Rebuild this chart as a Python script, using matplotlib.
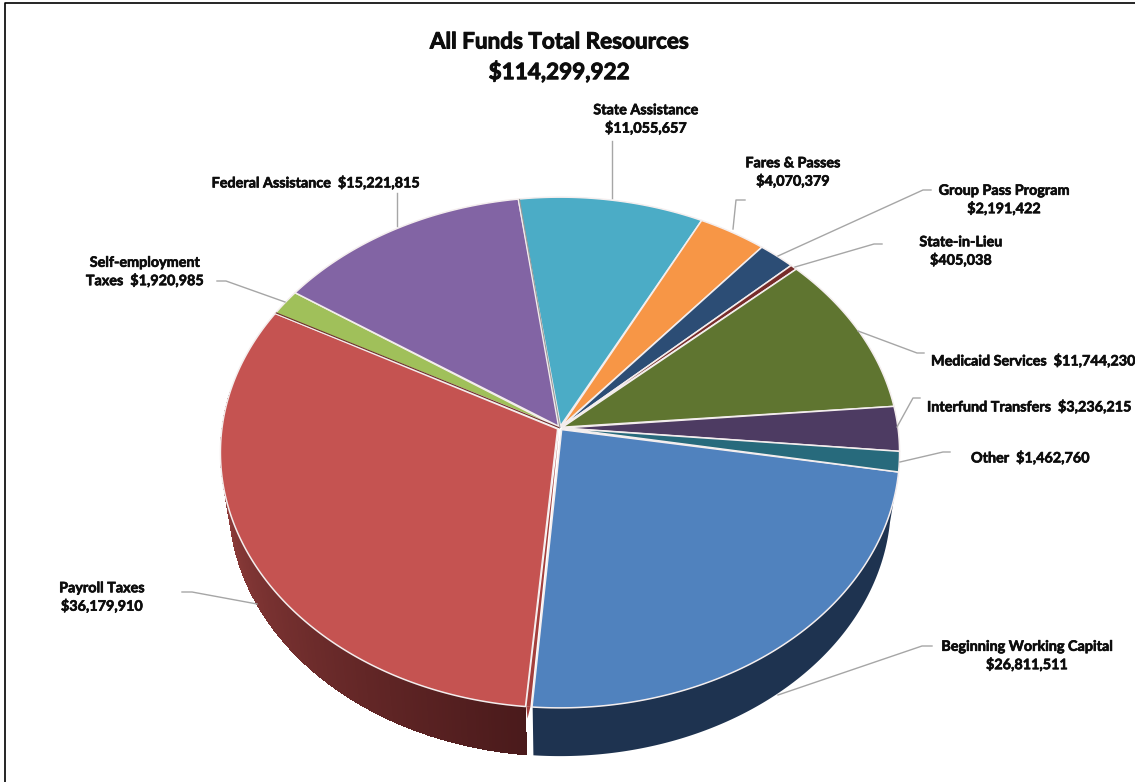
import numpy as np
import matplotlib
matplotlib.use('Agg')
import matplotlib.pyplot as plt
import matplotlib.patheffects as pe
from matplotlib.colors import to_rgb
from matplotlib.patches import Polygon

plt.rcParams['font.family'] = ['Lato', 'DejaVu Sans']

names = ['Beginning Working Capital', 'Payroll Taxes', 'Self-employment Taxes', 'Federal Assistance',
         'State Assistance', 'Fares & Passes', 'Group Pass Program', 'State-in-Lieu',
         'Medicaid Services', 'Interfund Transfers', 'Other']
values = [26811511, 36179910, 1920985, 15221815, 11055657, 4070379, 2191422, 405038,
          11744230, 3236215, 1462760]
colors = ['#5082be', '#c55351', '#a0c05a', '#8264a4', '#4bacc6', '#f79646', '#2c4d75', '#772c2a',
          '#5f7530', '#4d3b62', '#276a7c']

# label text, x, y, ha
labels = [
    ('State Assistance\n$11,055,657', 646, 119.5, 'center'),
    ('Fares & Passes\n$4,070,379', 793, 172.5, 'center'),
    ('Group Pass Program\n$2,191,422', 1004, 200, 'center'),
    ('State-in-Lieu\n$405,038', 961, 251.5, 'center'),
    ('Federal Assistance  $15,221,815', 316, 183, 'center'),
    ('Self-employment\nTaxes  $1,920,985', 145, 272, 'center'),
    ('Medicaid Services  $11,744,230', 931, 361, 'left'),
    ('Interfund Transfers  $3,236,215', 927, 407, 'left'),
    ('Other  $1,462,760', 971, 458, 'left'),
    ('Payroll Taxes\n$36,179,910', 102, 597.5, 'center'),
    ('Beginning Working Capital\n$26,811,511', 1027, 656, 'center'),
]
leaders = [
    [(612, 198), (612, 141)],
    [(733, 229), (736, 200), (745, 200)],
    [(778, 256), (923, 190), (931, 190)],
    [(795, 267), (874, 244), (882, 244)],
    [(397, 226), (397, 193)],
    [(285, 302), (226, 281), (217, 281)],
    [(858, 331), (917, 353), (924, 353)],
    [(897, 427), (913, 398), (920, 398)],
    [(900, 462), (943, 452), (950, 452)],
    [(257, 604), (192, 592), (182, 592)],
    [(778, 695), (922, 646), (932, 646)],
]

# perspective of the tilted disc, in pixels
cx, cy = 560, 428
a, b, k = 338, 253, 0.096
depth = 50.6
bottom_r = 0.975
start = -9.85


def project(deg, r=1.0, drop=0.0):
    t = np.radians(deg)
    x = r * np.cos(t)
    y = r * np.sin(t)
    w = 1 + k * np.sin(t)
    return cx + a * x / (1 + k * y), cy - b * y / (1 + k * y) + drop / w


fig = plt.figure(figsize=(11.35, 7.82), dpi=100)
ax = fig.add_axes([0, 0, 1, 1])
ax.set_xlim(0, 1135)
ax.set_ylim(782, 0)
ax.axis('off')

# frame, only the left and top edges are inside the picture
ax.plot([5, 5, 1135], [782, 3, 3], color='black', lw=1.2)

sweeps = np.array(values) / sum(values) * 360
ends = start - np.cumsum(sweeps)
starts = ends + sweeps

# side wall
angs = np.linspace(starts[0], ends[0] + 0.1, 200)
tx, ty = project(angs)
bx, by = project(angs, bottom_r, depth)
ax.add_patch(Polygon(list(zip(tx, ty)) + list(zip(bx, by))[::-1], fc='#1e3350', ec='none'))

wall_dark = np.array(to_rgb('#4a1a1b'))
wall_light = np.array(to_rgb('#933f3d'))
for deg in np.arange(ends[0] - 1.0, -188, -0.5):
    x0, y0 = project(deg)
    x1, y1 = project(deg - 0.6)
    x2, y2 = project(deg - 0.6, bottom_r, depth)
    x3, y3 = project(deg, bottom_r, depth)
    f = np.clip((-95 - deg) / 80, 0, 1)
    c = wall_dark + (wall_light - wall_dark) * f
    ax.add_patch(Polygon([(x0, y0), (x1, y1), (x2, y2), (x3, y3)], fc=c, ec='none', antialiased=False))

# top of the pie
for i, (s, e, c) in enumerate(zip(starts, ends, colors)):
    if i == 1:
        s = s - 1.0
    angs = np.linspace(s, e, max(int(abs(s - e) * 2), 3))
    xs, ys = project(angs)
    ax_, ay_ = project((s + e) / 2, 0.008)
    pts = [(ax_, ay_)] + list(zip(xs, ys))
    ax.add_patch(Polygon(pts, closed=True, fc=c, ec='#f4eeee', lw=1.1, joinstyle='round'))

# thin slivers seen next to some slices
sx, sy = project(np.array([starts[1] - 0.25, starts[1] - 0.85]))
ax.add_patch(Polygon([(cx - 1, cy + 4), (sx[0], sy[0]), (sx[1], sy[1])], fc='#a33f3c', ec='none'))
ax.add_patch(Polygon([(sx[0], sy[0]), (sx[1], sy[1]), (sx[1] + 1, sy[1] + 12)], fc='#a33f3c', ec='none'))
for idx, col in [(2, '#6e2e2c'), (4, '#9a9a9a')]:
    x0, y0 = project(starts[idx] - 0.2)
    ax.plot([cx, x0], [cy, y0], color=col, lw=0.8, solid_capstyle='butt')

for pts in leaders:
    xs, ys = zip(*pts)
    ax.plot(xs, ys, color='#a6a6a6', lw=1)

bold = [pe.withStroke(linewidth=0.45, foreground='#0d0d0d')]
for txt, x, y, ha in labels:
    t = ax.text(x, y, txt, ha=ha, va='center', fontsize=10.35, fontweight='bold', color='#0d0d0d',
                linespacing=1.5, multialignment='center')
    t.set_path_effects(bold)

bold_big = [pe.withStroke(linewidth=0.7, foreground='#0d0d0d')]
t1 = ax.text(559, 42, 'All Funds Total Resources', ha='center', va='center', fontsize=16.2,
             fontweight='bold', color='#0d0d0d')
t2 = ax.text(559, 72, '$114,299,922', ha='center', va='center', fontsize=16.2,
             fontweight='bold', color='#0d0d0d')
t1.set_path_effects(bold_big)
t2.set_path_effects(bold_big)

fig.savefig('out.png', dpi=100, facecolor='white')
